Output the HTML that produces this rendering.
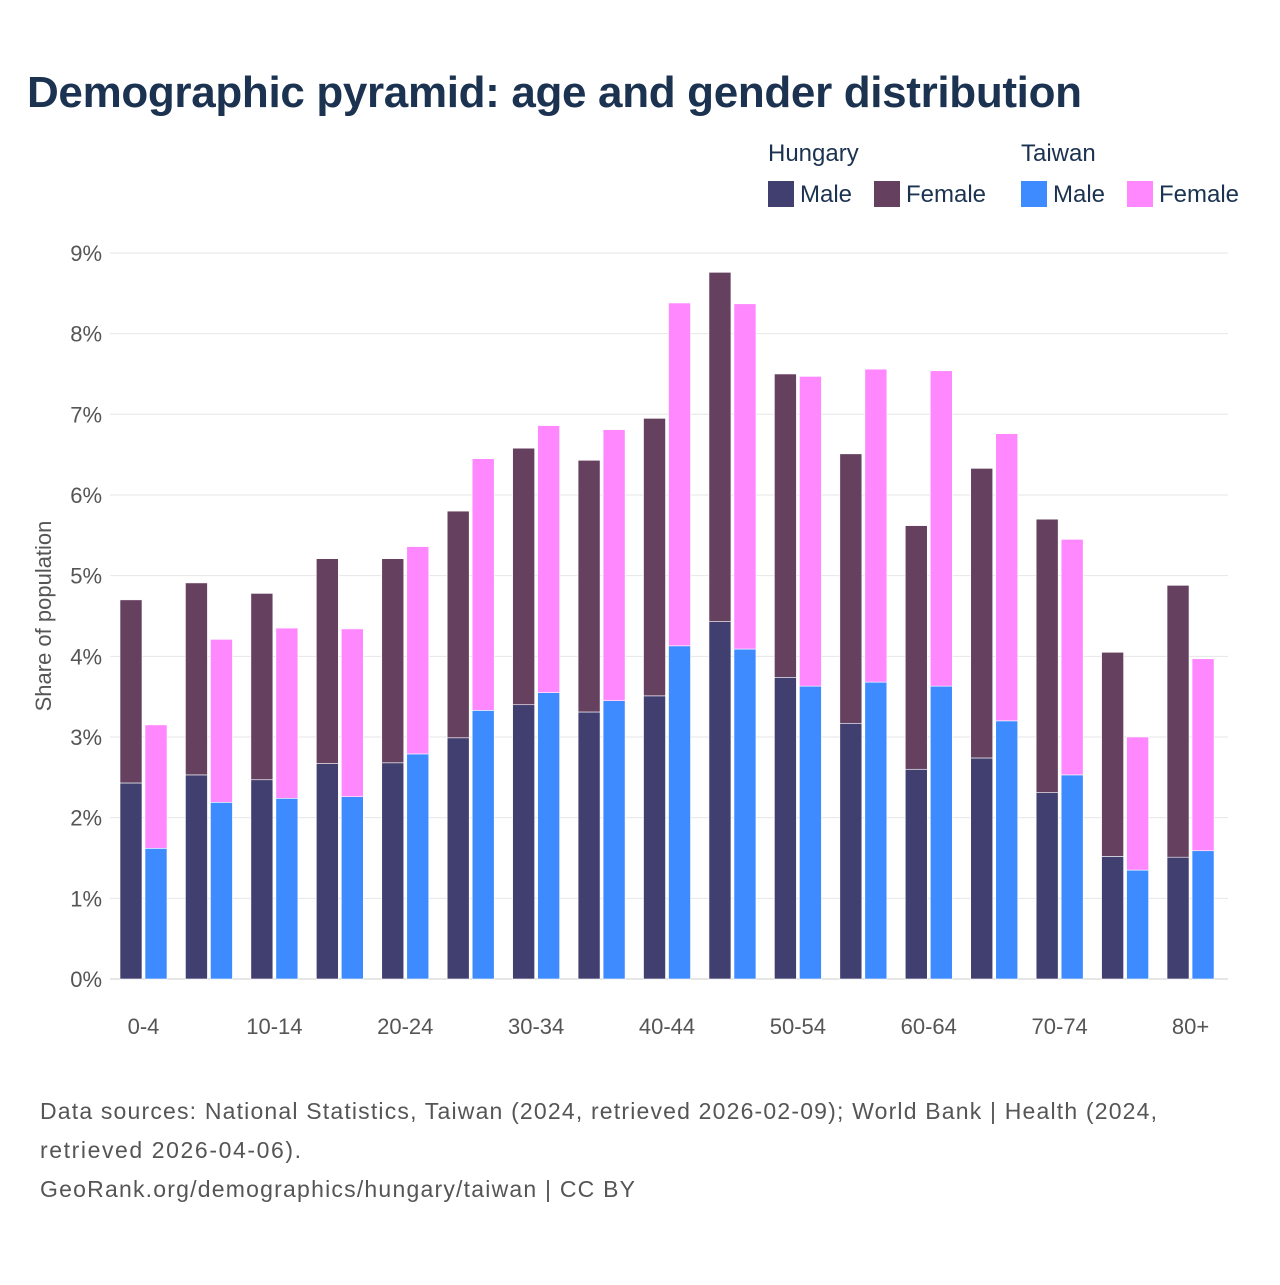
<!DOCTYPE html>
<html><head><meta charset="utf-8"><style>
body{margin:0;background:#fff;font-family:"Liberation Sans",sans-serif;}
#wrap{position:relative;width:1280px;height:1280px;}
</style></head><body>
<div id="wrap">
<svg id="svg" width="1280" height="1280" xmlns="http://www.w3.org/2000/svg">
<text x="27" y="107" font-size="44" font-weight="bold" fill="#1b3250" textLength="1055">Demographic pyramid: age and gender distribution</text>
<g font-size="24" fill="#1b3250">
<text x="768" y="161">Hungary</text>
<text x="1021" y="161">Taiwan</text>
<rect x="768" y="181" width="26" height="26" fill="#413f70"/>
<text x="800" y="202">Male</text>
<rect x="874" y="181" width="26" height="26" fill="#65405f"/>
<text x="906" y="202">Female</text>
<rect x="1021" y="181" width="26" height="26" fill="#3e8bff"/>
<text x="1053" y="202">Male</text>
<rect x="1127" y="181" width="26" height="26" fill="#ff88ff"/>
<text x="1159" y="202">Female</text>
</g>
<text transform="translate(51,616) rotate(-90)" text-anchor="middle" font-size="22" fill="#555">Share of population</text>
<g id="grid"></g><g id="bars"></g><g id="xl"></g>
<g font-size="23" fill="#555">
<text x="40" y="1119" textLength="1117">Data sources: National Statistics, Taiwan (2024, retrieved 2026-02-09); World Bank | Health (2024,</text>
<text x="40" y="1158" textLength="261">retrieved 2026-04-06).</text>
<text x="40" y="1197" textLength="595">GeoRank.org/demographics/hungary/taiwan | CC BY</text>
</g>
</svg>
</div>
<script>
const categories=["0-4","5-9","10-14","15-19","20-24","25-29","30-34","35-39","40-44","45-49","50-54","55-59","60-64","65-69","70-74","75-79","80+"];
const huMale=[2.43,2.53,2.47,2.67,2.68,2.99,3.40,3.31,3.51,4.43,3.74,3.17,2.60,2.74,2.31,1.52,1.51];
const huFemale=[2.27,2.38,2.31,2.54,2.53,2.81,3.18,3.12,3.44,4.33,3.76,3.34,3.02,3.59,3.39,2.53,3.37];
const twMale=[1.62,2.19,2.24,2.26,2.79,3.33,3.55,3.45,4.13,4.09,3.63,3.68,3.63,3.20,2.53,1.35,1.59];
const twFemale=[1.53,2.02,2.11,2.08,2.57,3.12,3.31,3.36,4.25,4.28,3.84,3.88,3.91,3.56,2.92,1.65,2.38];
const yTicks=[0,1,2,3,4,5,6,7,8,9];
const NS="http://www.w3.org/2000/svg";
const y0=979,pxPer=80.67,left=110,right=1228,gw=65.44;
const y=v=>y0-v*pxPer;
const xg=i=>left+gw*i;
const grid=document.getElementById('grid'),bars=document.getElementById('bars'),xl=document.getElementById('xl');
function mk(tag,a,parent){const e=document.createElementNS(NS,tag);for(const k in a)e.setAttribute(k,a[k]);parent.appendChild(e);return e;}
yTicks.forEach(t=>{
 const l=mk('line',{x1:left,x2:right,y1:y(t),y2:y(t),stroke:t===0?'#ccc':'#e6e6e6','stroke-width':1},grid);
 
 
 const tx=mk('text',{x:102,y:y(t)+8,'text-anchor':'end','font-size':22,fill:'#555'},grid);
 tx.textContent=t+'%';
 
 
});
const bw=22;
categories.forEach((c,i)=>{
 const x1=xg(i)+10,x2=x1+bw+3;
 const segs=[[x1,0,huMale[i],'#413f70','bar-hu-male'],[x1,huMale[i],huFemale[i],'#65405f','bar-hu-female'],[x2,0,twMale[i],'#3e8bff','bar-tw-male'],[x2,twMale[i],twFemale[i],'#ff88ff','bar-tw-female']];
 segs.forEach(s=>{
  const r=mk('rect',{x:s[0],y:y(s[1]+s[2]),width:bw,height:s[2]*pxPer,fill:s[3],stroke:'#fff','stroke-width':0.6},bars);
  
  
 });
 if(i%2===0){
  const t=mk('text',{x:x1+bw+1.5,y:1034,'text-anchor':'middle','font-size':22,fill:'#555'},xl);
  t.textContent=c;
  
  
 }
});
</script>
</body></html>
